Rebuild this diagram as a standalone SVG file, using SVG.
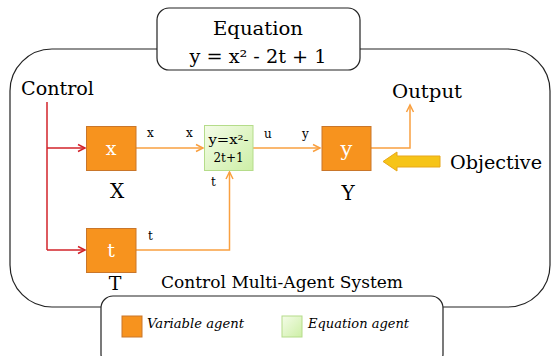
<svg xmlns="http://www.w3.org/2000/svg" width="551" height="356" viewBox="0 0 551 356">
<defs>
<style>
.frame{fill:none;stroke:#222;stroke-width:1.2}
.box{fill:#fff;stroke:#222;stroke-width:1.2}
.var{fill:#F7931E;stroke:#C9762A;stroke-width:1}
.eq{fill:url(#g);stroke:#B5DC8A;stroke-width:1}
.t{font-family:"DejaVu Serif","Liberation Serif",serif;fill:#000}
.w{font-family:"DejaVu Serif","Liberation Serif",serif;fill:#fff}
.red{fill:none;stroke:#D2232A;stroke-width:1.5}
.org{fill:none;stroke:#F9A040;stroke-width:1.5}
</style>
<linearGradient id="g" x1="0" y1="0" x2="1" y2="1">
<stop offset="0" stop-color="#F4FCE8"/>
<stop offset="1" stop-color="#CDEFA6"/>
</linearGradient>
<marker id="ar" markerWidth="10" markerHeight="10" refX="8" refY="5" orient="auto" markerUnits="userSpaceOnUse">
<path d="M1,1.5 L8,5 L1,8.5" fill="none" stroke="#D2232A" stroke-width="1.5"/>
</marker>
<marker id="ao" markerWidth="10" markerHeight="10" refX="8" refY="5" orient="auto" markerUnits="userSpaceOnUse">
<path d="M1,1.5 L8,5 L1,8.5" fill="none" stroke="#F9A040" stroke-width="1.5"/>
</marker>
</defs>
<rect width="551" height="356" fill="#fff"/>
<g id="frame">
<rect class="frame" x="10" y="49" width="540" height="258" rx="42" ry="42"/>
<text class="t" x="161" y="288" font-size="17" textLength="242" lengthAdjust="spacingAndGlyphs">Control Multi-Agent System</text>
</g>
<g id="equation-box">
<rect class="box" x="157" y="8" width="203" height="62" rx="12" ry="12"/>
<text class="t" x="258" y="35" font-size="19" text-anchor="middle" textLength="90" lengthAdjust="spacingAndGlyphs">Equation</text>
<text class="t" x="258" y="63" font-size="18" text-anchor="middle" textLength="137" lengthAdjust="spacingAndGlyphs">y = x² - 2t + 1</text>
</g>
<g id="legend">
<rect class="box" x="101" y="296" width="342" height="70" rx="12" ry="12"/>
<rect class="var" x="122" y="316" width="20" height="21"/>
<text class="t" x="147" y="328" font-size="13" font-style="italic" textLength="97" lengthAdjust="spacingAndGlyphs">Variable agent</text>
<rect class="eq" x="282" y="316" width="20" height="21"/>
<text class="t" x="308" y="328" font-size="13" font-style="italic" textLength="101" lengthAdjust="spacingAndGlyphs">Equation agent</text>
</g>
<g id="connectors">
<path class="red" d="M47,102 V250"/>
<path class="red" d="M47,148 H85" marker-end="url(#ar)"/>
<path class="red" d="M47,250 H85" marker-end="url(#ar)"/>
<path class="org" d="M136,148 H203" marker-end="url(#ao)"/>
<path class="org" d="M253,148 H320" marker-end="url(#ao)"/>
<path class="org" d="M136,250 H229.5 V172" marker-end="url(#ao)"/>
<path class="org" d="M371,148 H410 V105" marker-end="url(#ao)"/>
<path d="M440,156 H397 V152 L383,161.5 L397,171 V167 H440 Z" fill="#F6C418" stroke="#E7A71A" stroke-width="1"/>
<text class="t" x="147" y="137" font-size="12">x</text>
<text class="t" x="186" y="137" font-size="12">x</text>
<text class="t" x="264" y="138" font-size="12">u</text>
<text class="t" x="302" y="138" font-size="12">y</text>
<text class="t" x="211" y="186" font-size="12">t</text>
<text class="t" x="148" y="240" font-size="12">t</text>
</g>
<g id="control">
<text class="t" x="21" y="95" font-size="19" textLength="73" lengthAdjust="spacingAndGlyphs">Control</text>
</g>
<g id="node-x">
<rect class="var" x="86.5" y="126.5" width="49.5" height="44"/>
<text class="w" x="111" y="155" font-size="19" text-anchor="middle">x</text>
<text class="t" x="117" y="198" font-size="20" text-anchor="middle">X</text>
</g>
<g id="node-eq">
<rect class="eq" x="204.5" y="125.5" width="48.5" height="45"/>
<text class="t" x="228.5" y="144" font-size="12" text-anchor="middle" textLength="40" lengthAdjust="spacingAndGlyphs">y=x²-</text>
<text class="t" x="228.5" y="162" font-size="12" text-anchor="middle">2t+1</text>
</g>
<g id="node-y">
<rect class="var" x="322" y="126.5" width="49" height="44"/>
<text class="w" x="346.5" y="156" font-size="21" text-anchor="middle">y</text>
<text class="t" x="348" y="200" font-size="20" text-anchor="middle">Y</text>
</g>
<g id="node-t">
<rect class="var" x="86.5" y="228.5" width="49.5" height="44"/>
<text class="w" x="111" y="257" font-size="19" text-anchor="middle">t</text>
<text class="t" x="115" y="290" font-size="19" text-anchor="middle">T</text>
</g>
<g id="output">
<text class="t" x="392" y="98" font-size="18" textLength="70" lengthAdjust="spacingAndGlyphs">Output</text>
</g>
<g id="objective">
<text class="t" x="450" y="169" font-size="19" textLength="92" lengthAdjust="spacingAndGlyphs">Objective</text>
</g>
</svg>
